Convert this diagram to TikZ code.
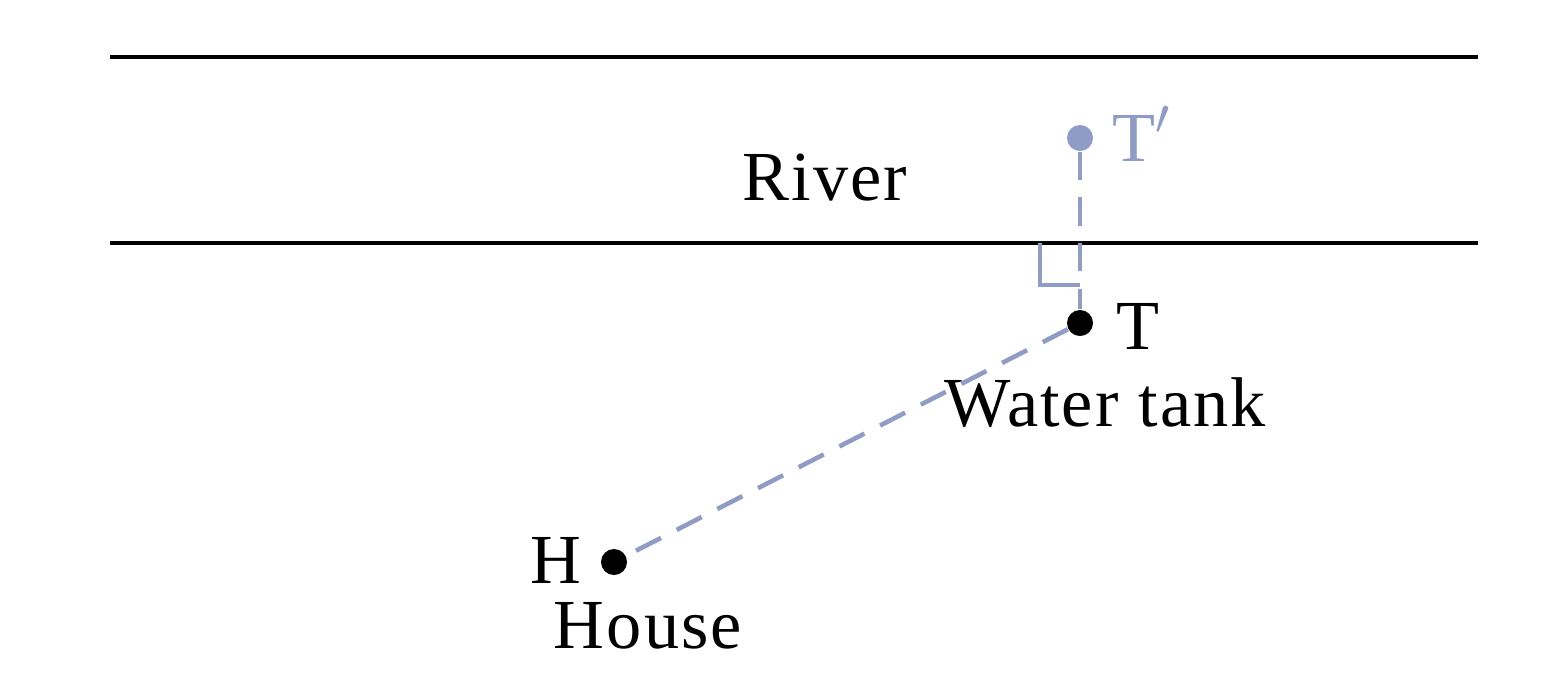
\documentclass[tikz,border=0pt]{standalone}
\usepackage{fontspec}
\setmainfont{Liberation Serif}
\definecolor{refl}{HTML}{8E9CC6}
\begin{document}
\begin{tikzpicture}[x=0.01cm,y=-0.01cm, font=\fontsize{20}{23}\selectfont]
    \tikzstyle{bank} = [line width=1.3pt, black]
    \tikzstyle{pt} = [circle, fill=black, inner sep=0pt, minimum size=0.26cm]
    \tikzstyle{path} = [refl, dashed, line width=1.3pt, dash pattern=on 8pt off 5pt]
    \useasboundingbox (0,0) rectangle (1560,672);

    % River banks
    \coordinate (bankTL) at (110,57);
    \coordinate (bankTR) at (1478,57);
    \coordinate (bankBL) at (110,243);
    \coordinate (bankBR) at (1478,243);
    \draw [bank] (bankTL) -- (bankTR);
    \draw [bank] (bankBL) -- (bankBR);
    \node (river) at (825,178) {\addfontfeature{LetterSpace=3}River};

    % Points
    \node [pt, fill=refl] (tprime) at (1080,138) {};
    \node [pt] (tank) at (1080,323) {};
    \node [pt] (house) at (614,562) {};
    \node [refl, anchor=west] at (1100,134) {T$'$};
    \node [anchor=west] at (1104,326) {T};
    \node [anchor=east] at (594,560) {H};
    \node (tanklabel) at (1105,403) {\addfontfeature{LetterSpace=3}Water tank};
    \node (houselabel) at (648,626) {\addfontfeature{LetterSpace=3}House};

    % Reflection and path
    \draw [path] (tprime) -- (tank);
    \draw [path] (tank) -- (house);
    \draw [refl, line width=1.3pt] (1040,243) -- (1040,285) -- (1080,285);
\end{tikzpicture}
\end{document}
